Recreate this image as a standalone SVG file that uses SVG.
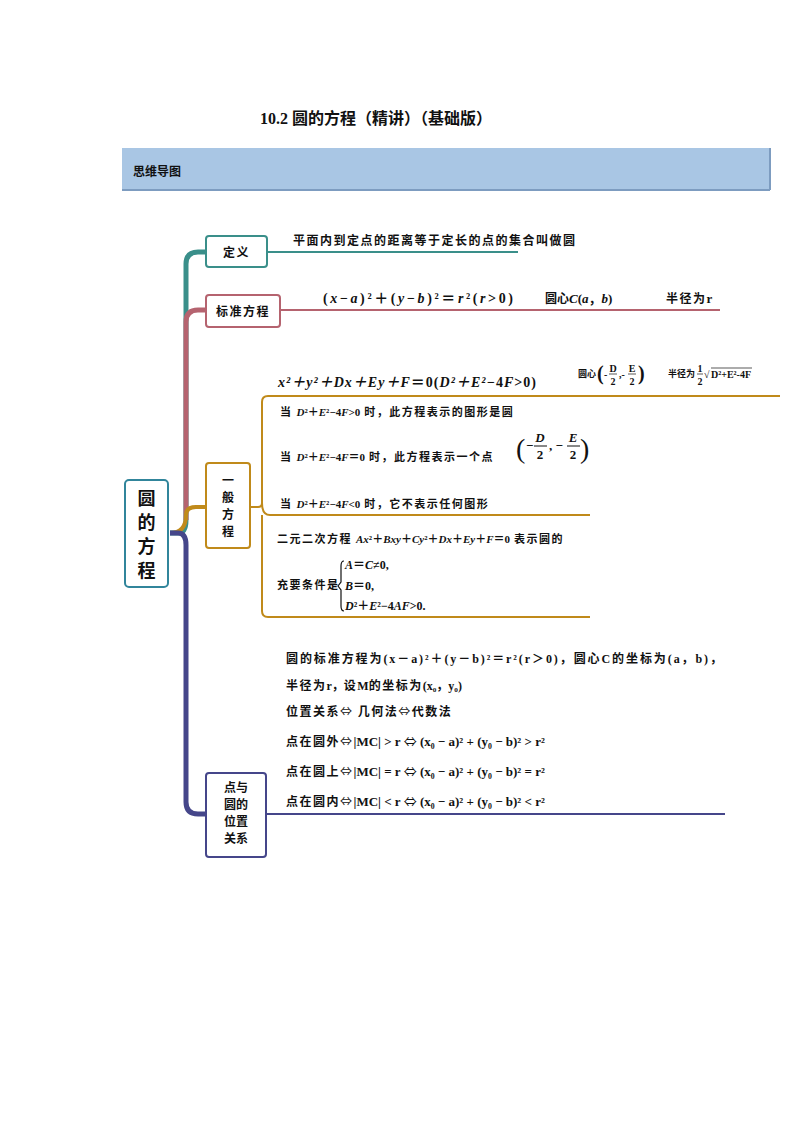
<svg xmlns="http://www.w3.org/2000/svg" width="794" height="1123" viewBox="0 0 794 1123">
<style>
.cn{font-family:"Noto Sans CJK SC","Liberation Serif",serif;font-weight:bold;fill:#111}
.m{font-family:"Liberation Serif","Noto Sans CJK SC",serif;fill:#111;font-weight:bold;letter-spacing:0}
.s{font-size:12px}
.ls{letter-spacing:1.5px}
.box{fill:#fff;stroke-width:2}
.ar{font-family:"Noto Sans CJK SC",sans-serif;font-weight:normal}
</style>
<rect width="794" height="1123" fill="#fff"/>
<text x="260" y="124" class="m" font-size="16">10.2 <tspan class="cn">圆的方程（精讲）（基础版）</tspan></text>
<rect x="122" y="148" width="648" height="42" fill="#a9c6e4"/>
<line x1="122" y1="190" x2="770" y2="190" stroke="#7d9cc0" stroke-width="2"/>
<line x1="770" y1="148" x2="770" y2="190" stroke="#7d9cc0" stroke-width="2"/>
<text x="133" y="176" class="cn" font-size="12">思维导图</text>

<g id="connectors" fill="none" stroke-width="5">
<path d="M170,533 H178 Q186,533 186,520 V264 Q186,252 198,252 H206" stroke="#3a8f8a"/>
<path d="M186,520 V322 Q186,310 198,310 H206" stroke="#b5636f"/>
<path d="M170,533 Q186,533 186,515 Q186,507 196,507 H206" stroke="#c08a1a" stroke-width="4"/>
<path d="M170,533 H178 Q186,533 186,545 V802 Q186,814 198,814 H206" stroke="#45468a"/>
<line x1="267" y1="252" x2="518" y2="252" stroke="#3a8f8a" stroke-width="2"/>
<line x1="280" y1="310" x2="720" y2="310" stroke="#b5636f" stroke-width="2"/>
<path d="M250,507 H258 Q262,507 262,503 V402 Q262,396 268,396 H780" stroke="#c08a1a" stroke-width="2"/>
<path d="M262,503 Q262,515 270,515 H590" stroke="#c08a1a" stroke-width="2"/>
<path d="M262,515 V611 Q262,617 268,617 H590" stroke="#c08a1a" stroke-width="2"/>
<line x1="266" y1="814" x2="725" y2="814" stroke="#45468a" stroke-width="2"/>
</g>

<g id="root"><rect x="125" y="480" width="43" height="107" rx="4" class="box" stroke="#31859b" stroke-width="3"/>
<text class="cn" font-size="18" x="146.5" text-anchor="middle"><tspan x="146.5" y="505">圆</tspan><tspan x="146.5" y="529">的</tspan><tspan x="146.5" y="553">方</tspan><tspan x="146.5" y="577">程</tspan></text></g>

<g id="def"><rect x="206" y="236" width="61" height="31" rx="3" class="box" stroke="#3a8f8a"/>
<text x="236.5" y="257" text-anchor="middle" class="cn s ls">定义</text>
<text x="293" y="245" class="cn s ls">平面内到定点的距离等于定长的点的集合叫做圆</text></g>

<g id="std"><rect x="206" y="295" width="74" height="32" rx="3" class="box" stroke="#b5636f"/>
<text x="243" y="316" text-anchor="middle" class="cn s ls">标准方程</text>
<text x="323" y="303" class="m" font-size="14" textLength="190">(<tspan font-style="italic">x</tspan>−<tspan font-style="italic">a</tspan>)²＋(<tspan font-style="italic">y</tspan>−<tspan font-style="italic">b</tspan>)²＝<tspan font-style="italic">r</tspan>²(<tspan font-style="italic">r</tspan>&gt;0)</text>
<text x="545" y="303" class="m" font-size="13"><tspan class="cn s">圆心</tspan><tspan font-style="italic">C</tspan>(<tspan font-style="italic">a</tspan>，<tspan font-style="italic">b</tspan>)</text>
<text x="666" y="303" class="m" font-size="13"><tspan class="cn s ls">半径为</tspan>r</text></g>

<g id="gen"><rect x="206" y="463" width="44" height="85" rx="3" class="box" stroke="#c08a1a"/>
<text class="cn s" text-anchor="middle"><tspan x="228" y="485">一</tspan><tspan x="228" y="502">般</tspan><tspan x="228" y="519">方</tspan><tspan x="228" y="536">程</tspan></text>
<text x="278" y="387" class="m" font-size="14" font-style="italic" textLength="258">x²＋y²＋Dx＋Ey＋F<tspan font-style="normal">＝0(</tspan>D²＋E²−<tspan font-style="normal">4</tspan>F<tspan font-style="normal">&gt;0)</tspan></text>
<g class="m" font-size="10" font-weight="normal">
<text x="578" y="377" class="cn" font-size="9">圆心</text>
<text x="597" y="380" font-size="20">(</text>
<text x="604" y="378">-</text><text x="613" y="372" text-anchor="middle">D</text><text x="613" y="385" text-anchor="middle">2</text>
<line x1="609" y1="374" x2="617" y2="374" stroke="#111" stroke-width="0.7"/>
<text x="619" y="378">,-</text><text x="632" y="372" text-anchor="middle">E</text><text x="632" y="385" text-anchor="middle">2</text>
<line x1="628" y1="374" x2="636" y2="374" stroke="#111" stroke-width="0.7"/>
<text x="638" y="380" font-size="20">)</text>
<text x="668" y="377" class="cn" font-size="9">半径为</text>
<text x="700" y="372" text-anchor="middle">1</text><text x="700" y="385" text-anchor="middle">2</text>
<line x1="697" y1="374" x2="703" y2="374" stroke="#111" stroke-width="0.7"/>
<text x="704" y="378">√</text>
<line x1="711" y1="368" x2="752" y2="368" stroke="#111" stroke-width="0.7"/>
<text x="711" y="378">D²+E²-4F</text>
</g>
<text x="280" y="416" class="cn ls" font-size="11">当 <tspan class="m" font-style="italic">D</tspan><tspan class="m">²＋</tspan><tspan class="m" font-style="italic">E</tspan><tspan class="m">²−4</tspan><tspan class="m" font-style="italic">F</tspan><tspan class="m">&gt;0</tspan> 时，此方程表示的图形是圆</text>
<text x="280" y="461" class="cn ls" font-size="11">当 <tspan class="m" font-style="italic">D</tspan><tspan class="m">²＋</tspan><tspan class="m" font-style="italic">E</tspan><tspan class="m">²−4</tspan><tspan class="m" font-style="italic">F</tspan><tspan class="m">＝0</tspan> 时，此方程表示一个点</text>
<g class="m" font-size="13">
<text x="516" y="458" font-size="28" font-weight="normal">(</text>
<text x="526" y="450">−</text><text x="540" y="442" font-style="italic" text-anchor="middle">D</text><text x="540" y="459" text-anchor="middle">2</text>
<line x1="534" y1="446" x2="547" y2="446" stroke="#111"/>
<text x="549" y="450">,  −</text><text x="573" y="442" font-style="italic" text-anchor="middle">E</text><text x="573" y="459" text-anchor="middle">2</text>
<line x1="567" y1="446" x2="580" y2="446" stroke="#111"/>
<text x="580" y="458" font-size="28" font-weight="normal">)</text>
</g>
<text x="280" y="508" class="cn ls" font-size="11">当 <tspan class="m" font-style="italic">D</tspan><tspan class="m">²＋</tspan><tspan class="m" font-style="italic">E</tspan><tspan class="m">²−4</tspan><tspan class="m" font-style="italic">F</tspan><tspan class="m">&lt;0</tspan> 时，它不表示任何图形</text>
<text x="277" y="543" class="cn ls" font-size="11">二元二次方程 <tspan class="m" font-style="italic">Ax</tspan><tspan class="m">²＋</tspan><tspan class="m" font-style="italic">Bxy</tspan><tspan class="m">＋</tspan><tspan class="m" font-style="italic">Cy</tspan><tspan class="m">²＋</tspan><tspan class="m" font-style="italic">Dx</tspan><tspan class="m">＋</tspan><tspan class="m" font-style="italic">Ey</tspan><tspan class="m">＋</tspan><tspan class="m" font-style="italic">F</tspan><tspan class="m">＝0</tspan> 表示圆的</text>
<text x="277" y="589" class="cn ls" font-size="11">充要条件是</text>
<path d="M344,561 Q341,561 341,566 V582 L338,586 L341,590 V606 Q341,611 344,611" fill="none" stroke="#111" stroke-width="1.2"/>
<text class="m" font-size="12"><tspan x="345" y="569" font-style="italic">A</tspan><tspan>＝</tspan><tspan font-style="italic">C</tspan><tspan>≠0,</tspan><tspan x="345" y="590" font-style="italic">B</tspan><tspan>＝0,</tspan><tspan x="345" y="610" font-style="italic">D</tspan><tspan>²＋</tspan><tspan font-style="italic">E</tspan><tspan>²−4</tspan><tspan font-style="italic">AF</tspan><tspan>&gt;0.</tspan></text></g>

<g id="pos"><rect x="206" y="773" width="60" height="84" rx="3" class="box" stroke="#45468a"/>
<text class="cn s" text-anchor="middle"><tspan x="236" y="792">点与</tspan><tspan x="236" y="809">圆的</tspan><tspan x="236" y="826">位置</tspan><tspan x="236" y="843">关系</tspan></text>
<text x="286" y="663" class="cn" font-size="12" textLength="436">圆的标准方程为<tspan class="m">(x－a)²＋(y－b)²＝r²(r＞0)，</tspan>圆心<tspan class="m">C</tspan>的坐标为<tspan class="m">(a，b)，</tspan></text>
<text x="286" y="690" class="cn ls" font-size="12">半径为<tspan class="m">r，</tspan>设<tspan class="m">M</tspan>的坐标为<tspan class="m">(x₀，y₀)</tspan></text>
<text x="286" y="716" class="cn ls" font-size="12">位置关系<tspan class="ar">⇔</tspan> 几何法<tspan class="ar">⇔</tspan>代数法</text>
<text x="286" y="746" class="cn ls" font-size="12">点在圆外<tspan class="ar">⇔</tspan><tspan class="m" font-weight="normal" font-size="13">|MC| &gt; <tspan font-weight="bold">r</tspan> <tspan class="ar">⇔</tspan> (x₀ − a)² + (y₀ − b)² &gt; r²</tspan></text>
<text x="286" y="776" class="cn ls" font-size="12">点在圆上<tspan class="ar">⇔</tspan><tspan class="m" font-weight="normal" font-size="13">|MC| = <tspan font-weight="bold">r</tspan> <tspan class="ar">⇔</tspan> (x₀ − a)² + (y₀ − b)² = r²</tspan></text>
<text x="286" y="806" class="cn ls" font-size="12">点在圆内<tspan class="ar">⇔</tspan><tspan class="m" font-weight="normal" font-size="13">|MC| &lt; <tspan font-weight="bold">r</tspan> <tspan class="ar">⇔</tspan> (x₀ − a)² + (y₀ − b)² &lt; r²</tspan></text></g>
</svg>
